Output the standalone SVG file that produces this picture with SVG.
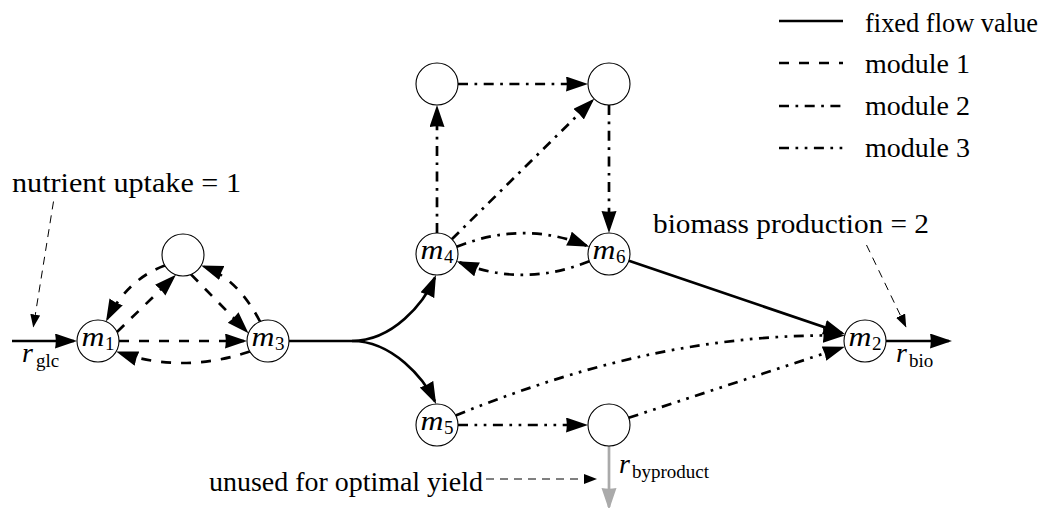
<svg xmlns="http://www.w3.org/2000/svg" width="1046" height="508" viewBox="0 0 1046 508">
<style>
.node{fill:#fff;stroke:#000;stroke-width:1.1}
.e{fill:none;stroke:#000;stroke-width:2.7;stroke-linecap:butt}
.arr{marker-end:url(#ah)}
.d1{stroke-dasharray:10 10}
.d2{stroke-dasharray:10 6.5 2.7 6.5}
.d3{stroke-dasharray:10 6.5 2.7 6.5 2.7 6.5}
.ann{fill:none;stroke:#000;stroke-width:1;stroke-dasharray:8 6;marker-end:url(#sa)}
.gray{fill:none;stroke:#aaa;stroke-width:2.7;marker-end:url(#ga)}
text{font-family:"Liberation Serif","Times New Roman",serif;fill:#000}
.t{font-size:27px}
.mi{font-size:28px;font-style:italic}
.sub{font-size:19px}
</style>
<defs>
<marker id="ah" markerUnits="userSpaceOnUse" markerWidth="23" markerHeight="16" refX="19" refY="7.5" orient="auto">
<path d="M22,7.5 L0,0 Q1.5,7.5 0,15 Z" fill="#000"/>
</marker>
<marker id="ga" markerUnits="userSpaceOnUse" markerWidth="23" markerHeight="16" refX="19" refY="7.5" orient="auto">
<path d="M22,7.5 L0,0 Q1.5,7.5 0,15 Z" fill="#aaa"/>
</marker>
<marker id="sa" markerUnits="userSpaceOnUse" markerWidth="14" markerHeight="10" refX="12" refY="5" orient="auto">
<path d="M13,5 L0,0 L0,10 Z" fill="#000"/>
</marker>
</defs>
<rect width="1046" height="508" fill="#fff"/>

<g id="legend">
<line class="e" x1="779" y1="21" x2="843" y2="21"/>
<line class="e d1" x1="779" y1="63" x2="843" y2="63"/>
<line class="e d2" x1="779" y1="106" x2="843" y2="106"/>
<line class="e d3" x1="779" y1="148" x2="843" y2="148"/>
<text class="t" x="865" y="32" textLength="173" lengthAdjust="spacingAndGlyphs">fixed flow value</text>
<text class="t" x="865" y="73" textLength="105" lengthAdjust="spacingAndGlyphs">module 1</text>
<text class="t" x="865" y="115" textLength="105" lengthAdjust="spacingAndGlyphs">module 2</text>
<text class="t" x="865" y="157" textLength="105" lengthAdjust="spacingAndGlyphs">module 3</text>
</g>

<g id="connectors">
<path class="e arr" d="M12,341 H74"/>
<path class="e arr d1" d="M119,341 H244"/>
<path class="e arr d1" d="M249.8,351.5 Q183,374 119,352.5"/>
<path class="e arr d1" d="M164.8,265.5 Q128,279 107.4,318.8"/>
<path class="e arr d1" d="M117,332 L173.8,276.9"/>
<path class="e arr d1" d="M191,274.4 L246.4,331.1"/>
<path class="e arr d1" d="M260,321.5 Q238,279 204,266.5"/>
<path class="e arr" d="M289,341 H352 C393,341 424,303 434.8,277.8"/>
<path class="e arr" d="M352,341 C393,341 424,379 434.8,401.2"/>
<path class="e arr d2" d="M437,233 V108"/>
<path class="e arr d2" d="M458,84 H585"/>
<path class="e arr d2" d="M451.8,239.2 L592.1,100.9"/>
<path class="e arr d2" d="M609,105 V230"/>
<path class="e arr d2" d="M456.7,246.8 Q523,220 586.5,245.7"/>
<path class="e arr d2" d="M589.3,261.2 Q523,288 459.5,262.3"/>
<path class="e arr" d="M628.9,260.8 L842.3,333.2"/>
<path class="e arr d3" d="M455.7,415.5 C600,357 720,334 841.8,335.5"/>
<path class="e arr d3" d="M458,425 H585"/>
<path class="e arr d3" d="M628.7,417.8 L842,347.6"/>
<path class="e arr" d="M886,341 H949"/>
<path class="gray" d="M609,446 V507"/>
<path class="ann" d="M53.5,201.5 L33.4,326.5"/>
<path class="ann" d="M866.5,245 L905.8,326.5"/>
<path class="ann" d="M486,479 H596"/>
</g>

<g id="node-m1"><circle class="node" cx="98" cy="341" r="21"/><text class="mi" x="81.5" y="346" textLength="23" lengthAdjust="spacingAndGlyphs">m</text><text class="sub" x="105" y="350">1</text></g>
<g id="node-t"><circle class="node" cx="183" cy="255" r="21"/></g>
<g id="node-m3"><circle class="node" cx="268" cy="341" r="21"/><text class="mi" x="251.5" y="346" textLength="23" lengthAdjust="spacingAndGlyphs">m</text><text class="sub" x="275" y="350">3</text></g>
<g id="node-m4"><circle class="node" cx="437" cy="254" r="21"/><text class="mi" x="420.5" y="259" textLength="23" lengthAdjust="spacingAndGlyphs">m</text><text class="sub" x="444" y="263">4</text></g>
<g id="node-tl"><circle class="node" cx="437" cy="84" r="21"/></g>
<g id="node-tr"><circle class="node" cx="609" cy="84" r="21"/></g>
<g id="node-m6"><circle class="node" cx="609" cy="254" r="21"/><text class="mi" x="592.5" y="259" textLength="23" lengthAdjust="spacingAndGlyphs">m</text><text class="sub" x="616" y="263">6</text></g>
<g id="node-m5"><circle class="node" cx="437" cy="425" r="21"/><text class="mi" x="420.5" y="430" textLength="23" lengthAdjust="spacingAndGlyphs">m</text><text class="sub" x="444" y="434">5</text></g>
<g id="node-br"><circle class="node" cx="609" cy="425" r="21"/></g>
<g id="node-m2"><circle class="node" cx="865" cy="341" r="21"/><text class="mi" x="848.5" y="346" textLength="23" lengthAdjust="spacingAndGlyphs">m</text><text class="sub" x="872" y="350">2</text></g>

<g id="labels">
<text class="t" x="12" y="192" textLength="229" lengthAdjust="spacingAndGlyphs">nutrient uptake = 1</text>
<text class="t" x="653" y="233" textLength="276" lengthAdjust="spacingAndGlyphs">biomass production = 2</text>
<text class="t" x="209" y="491" textLength="274" lengthAdjust="spacingAndGlyphs">unused for optimal yield</text>
<text class="mi" x="22" y="362">r</text><text class="sub" x="36" y="367">glc</text>
<text class="mi" x="896" y="362">r</text><text class="sub" x="909" y="367">bio</text>
<text class="mi" x="619" y="473">r</text><text class="sub" x="632" y="478">byproduct</text>
</g>
</svg>
